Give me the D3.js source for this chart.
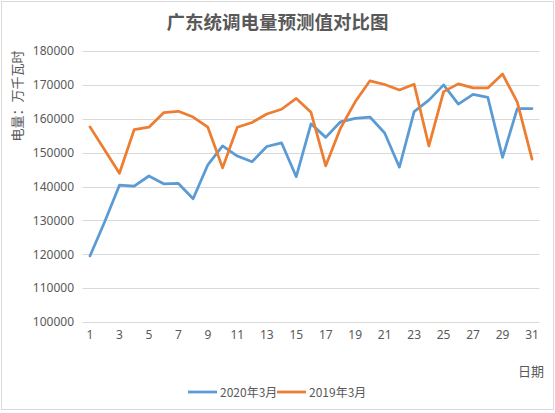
<!DOCTYPE html>
<html>
<head>
<meta charset="utf-8">
<script src="https://cdn.jsdelivr.net/npm/d3@7"></script>
<style>
  body { margin: 0; background: #fff; }
  svg { display: block; font-family: "Noto Sans CJK SC", "Noto Sans", sans-serif; }
</style>
</head>
<body>
<svg id="chart" width="555" height="413"></svg>
<script>
// 日期 1..31
var days = d3.range(1, 32);

var vals2020 = [119500, 129600, 140400, 140100, 143100, 140800, 140900, 136400, 146400, 152000,
                149000, 147300, 151800, 152900, 142900, 158500, 154500, 159100, 160100, 160500,
                155800, 145700, 162100, 165500, 170000, 164300, 167200, 166300, 148600, 163000,
                163000];

var vals2019 = [157600, 150800, 143900, 156800, 157500, 161800, 162200, 160500, 157500, 145500,
                157500, 158900, 161400, 162800, 166000, 161900, 146100, 157200, 165000, 171200,
                170100, 168500, 170200, 152000, 168000, 170300, 169100, 169100, 173200, 164900,
                148100];

var seriesNames = ["2020年3月", "2019年3月"];
var seriesColors = ["#5B9BD5", "#ED7D31"];
var yTicks = [100000, 110000, 120000, 130000, 140000, 150000, 160000, 170000, 180000];

var svg = d3.select("#chart");
var W = 555, H = 413;

// outer frame
svg.append("rect")
    .attr("x", 1.5).attr("y", 1.5)
    .attr("width", W - 3).attr("height", H - 5)
    .attr("fill", "#fff")
    .attr("stroke", "#d9d9d9");

var plotL = 82.6, plotR = 539.4, plotT = 51, plotB = 322;

var x = d3.scaleBand()
    .domain(days)
    .range([plotL, plotR]);

var y = d3.scaleLinear()
    .domain([100000, 180000])
    .range([plotB, plotT]);

// gridlines
svg.append("g")
    .selectAll("line")
    .data(yTicks)
    .enter().append("line")
    .attr("x1", plotL).attr("x2", plotR)
    .attr("y1", function(d) { return Math.round(y(d)) + 0.5; })
    .attr("y2", function(d) { return Math.round(y(d)) + 0.5; })
    .attr("stroke", "#d9d9d9")
    .attr("stroke-width", 1);

// y axis labels
var yAxis = d3.axisLeft(y).tickValues(yTicks).tickSize(0).tickPadding(0).tickFormat(d3.format("d"));
var gy = svg.append("g")
    .attr("transform", "translate(74,0)")
    .call(yAxis);
gy.select(".domain").remove();
gy.selectAll("text")
    .attr("fill", "#595959")
    .style("font-size", "12px")
    .style("font-family", "\"Noto Sans\", sans-serif");

// x axis labels (odd days)
var xAxis = d3.axisBottom(x)
    .tickValues(days.filter(function(d) { return d % 2 == 1; }))
    .tickSize(0).tickPadding(0);
var gx = svg.append("g")
    .attr("transform", "translate(0,330)")
    .call(xAxis);
gx.select(".domain").remove();
gx.selectAll("text")
    .attr("fill", "#595959")
    .attr("dy", "0.71em")
    .style("font-size", "12px")
    .style("font-family", "\"Noto Sans\", sans-serif");

// lines
var line = d3.line()
    .x(function(d, i) { return x(days[i]) + x.bandwidth() / 2; })
    .y(function(d) { return y(d); });

[vals2020, vals2019].forEach(function(vals, k) {
    svg.append("path")
        .datum(vals)
        .attr("d", line)
        .attr("fill", "none")
        .attr("stroke", seriesColors[k])
        .attr("stroke-width", 2.75)
        .attr("stroke-linejoin", "round")
        .attr("stroke-linecap", "round");
});

// title
svg.append("text")
    .attr("x", W / 2).attr("y", 29)
    .attr("text-anchor", "middle")
    .attr("fill", "#595959")
    .style("font-size", "18.5px")
    .style("font-weight", "bold")
    .text("广东统调电量预测值对比图");

// y axis title
svg.append("text")
    .attr("transform", "translate(22,96) rotate(-90)")
    .attr("text-anchor", "middle")
    .attr("fill", "#595959")
    .style("font-size", "13px")
    .text("电量：万千瓦时");

// x axis title
svg.append("text")
    .attr("x", 544).attr("y", 376)
    .attr("text-anchor", "end")
    .attr("fill", "#595959")
    .style("font-size", "13px")
    .text("日期");

// legend
var legend = svg.append("g").attr("transform", "translate(188,392)");
var legendItems = legend.selectAll("g")
    .data(seriesNames)
    .enter().append("g")
    .attr("transform", function(d, i) { return "translate(" + (i * 89) + ",0)"; });
legendItems.append("line")
    .attr("x1", 0).attr("x2", 29)
    .attr("y1", 0).attr("y2", 0)
    .attr("stroke", function(d, i) { return seriesColors[i]; })
    .attr("stroke-width", 2.75);
legendItems.append("text")
    .attr("x", 32).attr("y", 4.5)
    .attr("fill", "#595959")
    .style("font-size", "12px")
    .text(function(d) { return d; });
</script>
</body>
</html>
